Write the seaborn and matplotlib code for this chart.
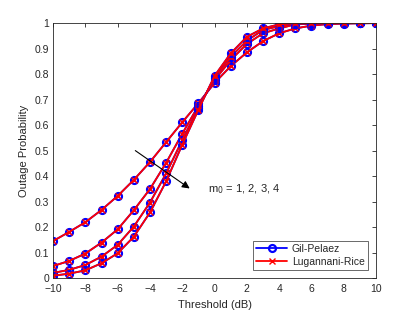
import numpy as np
import pandas as pd
import seaborn as sns
import matplotlib
matplotlib.use("Agg")
import matplotlib.pyplot as plt
from matplotlib.lines import Line2D

# threshold values (dB)
threshold = list(range(-10, 11))

# outage probability for m0 = 1..4
p_m1 = [0.145, 0.181, 0.219, 0.267, 0.322, 0.385, 0.455, 0.533, 0.611, 0.686, 0.765,
        0.831, 0.885, 0.929, 0.960, 0.979, 0.990, 0.996, 0.998, 0.999, 1.0]
p_m2 = [0.047, 0.067, 0.096, 0.139, 0.191, 0.266, 0.349, 0.452, 0.566, 0.676, 0.776,
        0.855, 0.918, 0.960, 0.979, 0.995, 0.998, 0.999, 1.0, 1.0, 1.0]
p_m3 = [0.020, 0.032, 0.051, 0.084, 0.130, 0.202, 0.296, 0.410, 0.541, 0.668, 0.785,
        0.868, 0.931, 0.973, 0.988, 0.998, 0.999, 1.0, 1.0, 1.0, 1.0]
p_m4 = [0.009, 0.017, 0.030, 0.058, 0.097, 0.162, 0.257, 0.379, 0.523, 0.660, 0.793,
        0.881, 0.946, 0.979, 0.995, 0.999, 1.0, 1.0, 1.0, 1.0, 1.0]
curves = {1: p_m1, 2: p_m2, 3: p_m3, 4: p_m4}

methods = ["Gil-Pelaez", "Lugannani-Rice"]

rows = []
for m0, vals in curves.items():
    for method in methods:
        for t, p in zip(threshold, vals):
            rows.append({"threshold": t, "prob": p, "m0": m0, "method": method})
df = pd.DataFrame(rows)

sns.set_style("white")
plt.rcParams.update({
    "font.family": ["Liberation Sans", "DejaVu Sans"],
    "xtick.direction": "in",
    "ytick.direction": "in",
    "xtick.top": True,
    "ytick.right": True,
    "xtick.major.size": 3,
    "ytick.major.size": 3,
    "xtick.color": "#262626",
    "ytick.color": "#262626",
    "axes.edgecolor": "#262626",
})

fig = plt.figure(figsize=(4.15, 3.12), dpi=100)
ax = fig.add_axes([0.128, 0.109, 0.778, 0.817])

style = {"Gil-Pelaez": dict(color="blue", marker="o", ms=5, mfc="none", mew=1.6),
         "Lugannani-Rice": dict(color="red", marker="x", ms=5, mew=1.0)}

for m0 in curves:
    for method in methods:
        sub = df[(df.m0 == m0) & (df.method == method)]
        sns.lineplot(data=sub, x="threshold", y="prob", ax=ax, lw=1.3,
                     markeredgecolor=style[method]["color"], legend=False,
                     **style[method])

ax.set_xlim(-10, 10)
ax.set_ylim(0, 1)
ax.set_xticks(range(-10, 11, 2))
ax.set_yticks(np.arange(0, 1.01, 0.1))
ax.set_yticklabels(["0"] + [f"{v:.1f}" for v in np.arange(0.1, 1.0, 0.1)] + ["1"])
ax.tick_params(labelsize=7.5, width=0.6)
ax.tick_params(axis="x", pad=4.5)
ax.tick_params(axis="y", pad=3)
for s in ax.spines.values():
    s.set_linewidth(0.6)
ax.set_xlabel("Threshold (dB)", fontsize=8, color="#262626")
ax.set_ylabel("Outage Probability", fontsize=8, color="#262626")

ax.annotate("", xy=(-1.4, 0.345), xytext=(-5.05, 0.506),
            arrowprops=dict(arrowstyle="-|>", color="black", lw=0.8, mutation_scale=11))
ax.text(-0.4, 0.35, r"m$_0$ = 1, 2, 3, 4", fontsize=8, va="center", color="#262626")

handles = [Line2D([], [], lw=1.3, markeredgecolor=style[m]["color"], **style[m]) for m in methods]
leg = ax.legend(handles, methods, loc="lower right", fontsize=7.5, frameon=True,
                fancybox=False, edgecolor="#262626", handlelength=3.0,
                borderaxespad=0.8, labelspacing=0.25, borderpad=0.3, handletextpad=0.4)
leg.get_frame().set_linewidth(0.6)

fig.savefig("out.png", dpi=100)
